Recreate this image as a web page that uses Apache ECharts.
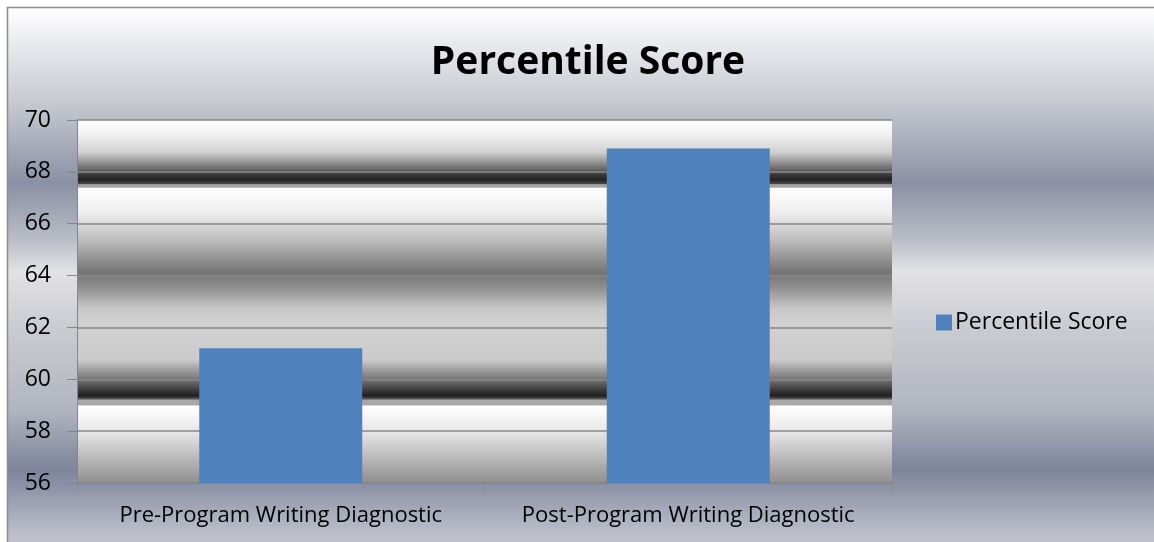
<!DOCTYPE html>
<html>
<head>
<meta charset="utf-8">
<script src="https://cdn.jsdelivr.net/npm/echarts@6/dist/echarts.min.js"></script>
<style>
  html, body { margin: 0; padding: 0; background: #fff; }
  #chart { width: 1154px; height: 542px; }
</style>
</head>
<body>
<div id="chart"></div>
<script>
// data
const categories = ['Pre-Program Writing Diagnostic', 'Post-Program Writing Diagnostic']
const scores = [61.2, 68.9]
const seriesName = 'Percentile Score'
const yMin = 56
const yMax = 70
const yStep = 2

const font = '"Open Sans", "Noto Sans", sans-serif'

// outer chart frame fill (office style silver gradient)
const frameFill = new echarts.graphic.LinearGradient(0, 0, 0, 1, [
    { offset: 0, color: '#ffffff' },
    { offset: 0.18, color: '#c4c7cf' },
    { offset: 0.32, color: '#8a91a4' },
    { offset: 0.42, color: '#b9bcc6' },
    { offset: 0.48, color: '#e2e2e4' },
    { offset: 0.58, color: '#cbccd2' },
    { offset: 0.73, color: '#b1b5c0' },
    { offset: 0.84, color: '#7d849b' },
    { offset: 0.95, color: '#b9bcc7' },
    { offset: 1, color: '#c9cad1' }
])

// plot area fill, banded metallic look
const plotFill = new echarts.graphic.LinearGradient(0, 0, 0, 1, [
    { offset: 0, color: '#ffffff' },
    { offset: 0.04, color: '#f2f2f2' },
    { offset: 0.09, color: '#cfcfcf' },
    { offset: 0.135, color: '#6a6a6a' },
    { offset: 0.15, color: '#3a3a3a' },
    { offset: 0.165, color: '#222222' },
    { offset: 0.175, color: '#444444' },
    { offset: 0.178, color: '#a2a2a2' },
    { offset: 0.185, color: '#a2a2a2' },
    { offset: 0.188, color: '#ffffff' },
    { offset: 0.26, color: '#ececec' },
    { offset: 0.33, color: '#bdbdbd' },
    { offset: 0.42, color: '#747474' },
    { offset: 0.46, color: '#8e8e8e' },
    { offset: 0.52, color: '#c8c8c8' },
    { offset: 0.56, color: '#d0d0d0' },
    { offset: 0.66, color: '#cccccc' },
    { offset: 0.71, color: '#7c7c7c' },
    { offset: 0.745, color: '#3a3a3a' },
    { offset: 0.76, color: '#1f1f1f' },
    { offset: 0.768, color: '#555555' },
    { offset: 0.772, color: '#a8a8a8' },
    { offset: 0.785, color: '#a8a8a8' },
    { offset: 0.788, color: '#ffffff' },
    { offset: 0.86, color: '#e6e6e6' },
    { offset: 1, color: '#8e8e8e' }
])

const myChart = echarts.init(document.getElementById('chart'), null, { renderer: 'canvas' })

const option = {
    animation: false,
    backgroundColor: '#ffffff',
    graphic: [
        {
            type: 'rect',
            z: -10,
            silent: true,
            shape: { x: 7.5, y: 7.5, width: 1160, height: 550 },
            style: { fill: frameFill, stroke: '#8c8c8c', lineWidth: 1.5 }
        }
    ],
    title: {
        text: 'Percentile Score',
        left: 583,
        textAlign: 'center',
        top: 38,
        textStyle: { fontFamily: font, fontSize: 39, fontWeight: 'bold', color: '#000' }
    },
    legend: {
        left: 931,
        top: 306,
        itemWidth: 16,
        itemHeight: 16,
        itemGap: 6,
        icon: 'rect',
        textStyle: { fontFamily: font, fontSize: 23, color: '#000', padding: [0, 0, 0, -2] },
        data: [seriesName]
    },
    grid: {
        left: 77,
        right: 262,
        top: 120,
        bottom: 59,
        show: true,
        borderWidth: 0,
        backgroundColor: plotFill
    },
    xAxis: {
        type: 'category',
        data: categories,
        axisLine: { lineStyle: { color: '#868686', width: 1 } },
        axisTick: { show: true, alignWithLabel: false, length: 8, lineStyle: { color: '#868686' } },
        axisLabel: { interval: 0, hideOverlap: false, fontFamily: font, fontSize: 22, color: '#000', margin: 22 }
    },
    yAxis: {
        type: 'value',
        min: yMin,
        max: yMax,
        interval: yStep,
        axisLine: { show: true, lineStyle: { color: '#868686', width: 1 } },
        axisTick: { show: true, length: 10, lineStyle: { color: '#868686' } },
        axisLabel: { fontFamily: font, fontSize: 23, color: '#000', margin: 26 },
        splitLine: { show: true, lineStyle: { color: '#878787', width: 1.5 } }
    },
    series: [
        {
            name: seriesName,
            type: 'bar',
            data: scores,
            barWidth: '40%',
            itemStyle: { color: '#4f81bd' }
        }
    ]
}

myChart.setOption(option)
</script>
</body>
</html>
